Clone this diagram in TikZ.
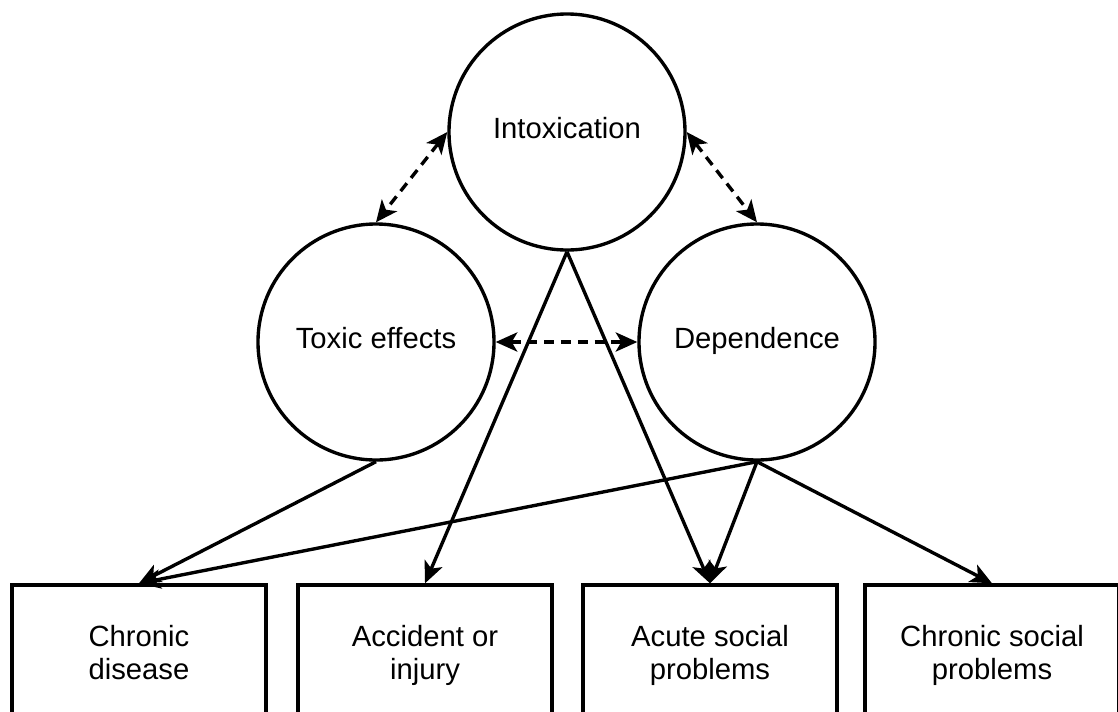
\documentclass[tikz,border=0pt]{standalone}
\usepackage{fontspec}
\setmainfont{Liberation Sans}
\usetikzlibrary{arrows.meta}

\begin{document}
\begin{tikzpicture}[
  font=\fontsize{20.8}{23.4}\selectfont,
  >={Stealth[length=5.4mm, width=4.8mm, inset=1.4mm]},
  state/.style={draw, circle, line width=2.4pt, minimum size=59mm, inner sep=0pt,
    execute at begin node=\strut},
  outcome/.style={draw, line width=2.4pt, minimum width=63.5mm, minimum height=36mm,
    align=center, inner sep=0pt, execute at begin node=\strut, execute at end node=\strut},
  link/.style={->, line width=2.4pt},
  mutual/.style={<->, line width=2.4pt, dash pattern=on 2.5mm off 1.7mm}
]
\useasboundingbox (0,0) rectangle (279.5mm,-177.75mm);

\node[state] (intox) at (141.75mm,-33mm) {Intoxication};
\node[state] (toxic) at (94mm,-85.5mm) {Toxic effects};
\node[state] (dep) at (189.25mm,-85.5mm) {Dependence};

\node[outcome] (chronic) at (34.75mm,-164.25mm) {Chronic\\disease};
\node[outcome] (accident) at (106.25mm,-164.25mm) {Accident or\\injury};
\node[outcome] (acute) at (177.5mm,-164.25mm) {Acute social\\problems};
\node[outcome] (social) at (248mm,-164.25mm) {Chronic social\\problems};

\draw[mutual] (intox.west) -- (toxic.north);
\draw[mutual] (intox.east) -- (dep.north);
\draw[mutual] (toxic.east) -- (dep.west);

\draw[link] (intox.south) -- (accident.north);
\draw[link] (intox.south) -- (acute.north);
\draw[link] (toxic.south) -- (chronic.north);
\draw[link] (dep.south) -- (chronic.north);
\draw[link] (dep.south) -- (acute.north);
\draw[link] (dep.south) -- (social.north);
\end{tikzpicture}
\end{document}
